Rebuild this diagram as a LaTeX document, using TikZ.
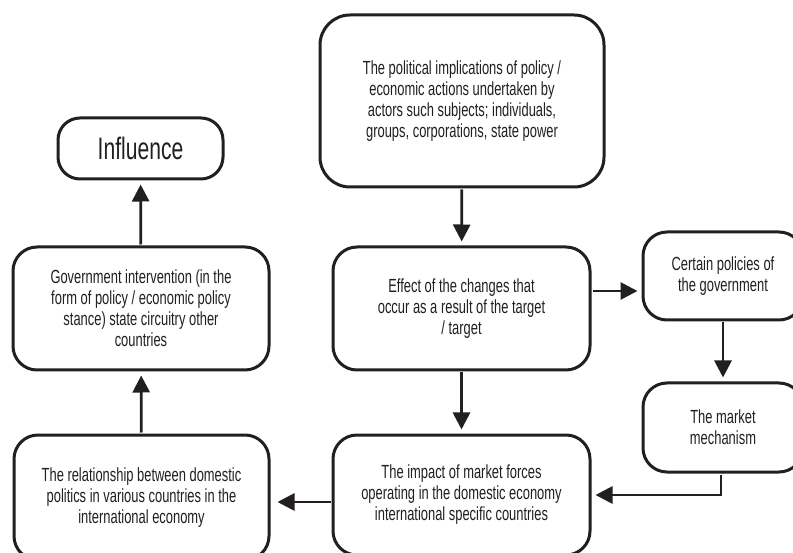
\documentclass[tikz,border=0pt]{standalone}
\usepackage{fontspec}
\setmainfont[FakeStretch=0.68]{Liberation Sans}
\usetikzlibrary{arrows.meta,calc}
\definecolor{ink}{HTML}{231F20}
\begin{document}
\begin{tikzpicture}[x=1pt,y=-1pt,
  box/.style={draw=ink,line width=3pt,rounded corners=24pt,inner sep=0pt,align=center,
    text=ink,font=\fontsize{19}{21}\selectfont},
  arr/.style={draw=ink,line width=2.8pt,-{Triangle[length=17pt,width=17pt]},shorten >=4pt,shorten <=1pt}]
\clip (0,0) rectangle (793,553);
\fill[white] (0,0) rectangle (793,553);
\node[box,minimum width=165pt,minimum height=61pt,rounded corners=22pt,font=\fontsize{31}{35}\selectfont] (infl) at (140.5,148.5) {Influence};
\node[box,minimum width=256pt,minimum height=123pt] (gov) at (141,308.5)
  {Government intervention (in the\\form of policy / economic policy\\stance) state circuitry other\\countries};
\node[box,minimum width=255pt,minimum height=125pt] (rel) at (141.5,497.5)
  {The relationship between domestic\\politics in various countries in the\\international economy};
\node[box,minimum width=284pt,minimum height=172pt,rounded corners=30pt] (pol) at (462,101)
  {The political implications of policy /\\economic actions undertaken by\\actors such subjects; individuals,\\groups, corporations, state power};
\node[box,minimum width=257pt,minimum height=123pt] (eff) at (461.5,308.5)
  {Effect of the changes that\\occur as a result of the target\\/ target};
\node[box,minimum width=257pt,minimum height=120pt] (imp) at (461.5,495)
  {The impact of market forces\\operating in the domestic economy\\international specific countries};
\node[box,minimum width=160pt,minimum height=88pt] (cert) at (723,276)
  {Certain policies of\\the government};
\node[box,minimum width=160pt,minimum height=89pt] (mkt) at (723,427.5)
  {The market\\mechanism};
\coordinate (h1) at (0,291);
\coordinate (h2) at (0,502);
\draw[arr] (gov) -- (infl);
\draw[arr] (rel) -- (gov);
\draw[arr] (pol) -- (eff);
\draw[arr] (eff) -- (imp);
\draw[arr] (eff.east |- h1) -- (cert.west |- h1);
\draw[arr] (cert) -- (mkt);
\draw[arr] ([xshift=-2pt]mkt.south) |- (imp.east);
\draw[arr,shorten >=7pt] (imp.west |- h2) -- (rel.east |- h2);
\end{tikzpicture}
\end{document}
